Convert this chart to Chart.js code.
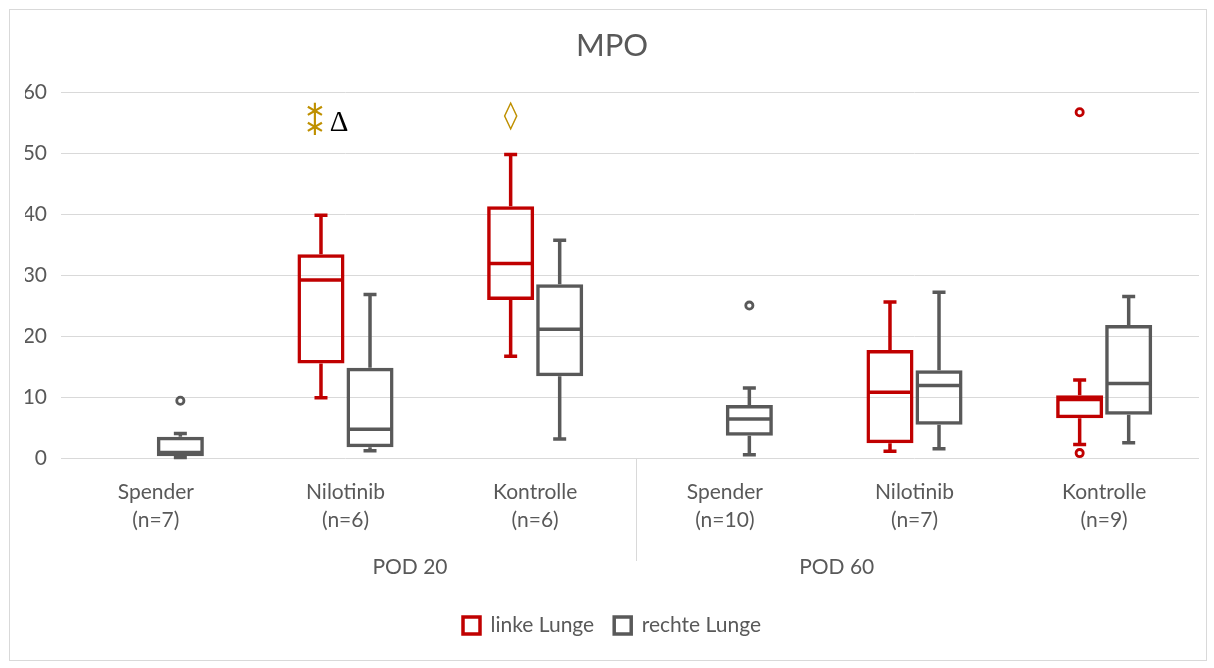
<!DOCTYPE html>
<html>
<head>
<meta charset="utf-8">
<script src="https://cdn.jsdelivr.net/npm/chart.js@4.4.1/dist/chart.umd.min.js"></script>
<style>
  html, body { margin: 0; padding: 0; background: #ffffff; }
  #frame { position: absolute; left: 9px; top: 9px; width: 1196px; height: 650px; border: 1px solid #d9d9d9; }
  #c { position: absolute; left: 0; top: 0; }
</style>
</head>
<body>
<div id="frame"></div>
<canvas id="c" width="1214" height="668"></canvas>
<script>
// ---- data ----
const categories = ['Spender', 'Nilotinib', 'Kontrolle', 'Spender', 'Nilotinib', 'Kontrolle'];
const sampleSizes = ['(n=7)', '(n=6)', '(n=6)', '(n=10)', '(n=7)', '(n=9)'];
const groupLabels = ['POD 20', 'POD 60'];
const seriesNames = ['linke Lunge', 'rechte Lunge'];
const yTicks = [0, 10, 20, 30, 40, 50, 60];

const leftMin    = [null,  9.9, 16.7, null,  1.1,  2.2];
const leftQ1     = [null, 15.5, 25.9, null,  2.4,  6.5];
const leftMedian = [null, 29.2, 31.9, null, 10.8,  9.6];
const leftQ3     = [null, 33.4, 41.3, null, 17.7, 10.3];
const leftMax    = [null, 39.8, 49.8, null, 25.6, 12.8];
const leftOutliers = [[], [], [], [], [], [0.8, 56.7]];

const rightMin    = [0.1,  1.2,  3.1, 0.55,  1.5,  2.5];
const rightQ1     = [0.3,  1.75, 13.4, 3.65, 5.45,  7.1];
const rightMedian = [0.9,  4.7, 21.1, 6.4, 11.9, 12.2];
const rightQ3     = [3.5, 14.8, 28.5, 8.7, 14.4, 21.8];
const rightMax    = [4.0, 26.8, 35.7, 11.5, 27.2, 26.5];
const rightOutliers = [[9.4], [], [], [25.0], [], []];

// significance marks above the boxes
const markText     = ['\u2217', '\u2217', '\u0394', '\u25CA'];
const markCategory = [1, 1, 1, 2];
const markValue    = [56.7, 54.1, 54.9, 55.9];
const markColor    = ['#BF9000', '#BF9000', '#000000', '#BF9000'];

// ---- styling ----
const RED = '#C00000';
const GREY = '#595959';
const TEXT = '#595959';
const GRID = '#d9d9d9';
const FONT = 'Lato';
const FS = 21;

const stats = [
  {min: leftMin, q1: leftQ1, median: leftMedian, q3: leftQ3, max: leftMax, out: leftOutliers, color: RED},
  {min: rightMin, q1: rightQ1, median: rightMedian, q3: rightQ3, max: rightMax, out: rightOutliers, color: GREY}
];

const boxPlugin = {
  id: 'boxWhiskers',
  afterDatasetsDraw(chart) {
    const ctx = chart.ctx;
    const y = chart.scales.y;
    ctx.save();
    stats.forEach((s, d) => {
      const meta = chart.getDatasetMeta(d);
      meta.data.forEach((el, i) => {
        const cx = el.x, w = el.width;
        if (s.min[i] != null) {
          ctx.strokeStyle = s.color;
          ctx.lineWidth = 3.5;
          ctx.lineCap = 'butt';
          const pMin = y.getPixelForValue(s.min[i]);
          const pQ1 = y.getPixelForValue(s.q1[i]);
          const pMed = y.getPixelForValue(s.median[i]);
          const pQ3 = y.getPixelForValue(s.q3[i]);
          const pMax = y.getPixelForValue(s.max[i]);
          ctx.beginPath();
          ctx.moveTo(cx - w / 2 + 1, pMed); ctx.lineTo(cx + w / 2 - 1, pMed);
          ctx.moveTo(cx, pQ3); ctx.lineTo(cx, pMax);
          ctx.moveTo(cx, pQ1); ctx.lineTo(cx, pMin);
          ctx.moveTo(cx - 6.5, pMax); ctx.lineTo(cx + 6.5, pMax);
          ctx.moveTo(cx - 6.5, pMin); ctx.lineTo(cx + 6.5, pMin);
          ctx.stroke();
        }
        // outliers
        s.out[i].forEach(v => {
          ctx.beginPath();
          ctx.arc(cx, y.getPixelForValue(v), 3.6, 0, Math.PI * 2);
          ctx.fillStyle = '#ffffff';
          ctx.fill();
          ctx.lineWidth = 2.8;
          ctx.strokeStyle = s.color;
          ctx.stroke();
        });
      });
    });
    ctx.restore();
  },
  afterDraw(chart) {
    const ctx = chart.ctx;
    const x = chart.scales.x, y = chart.scales.y;
    const area = chart.chartArea;
    ctx.save();
    // group separator
    const sx = Math.round(x.getPixelForValue(2.53)) + 0.5;
    ctx.strokeStyle = GRID;
    ctx.lineWidth = 1;
    ctx.beginPath();
    ctx.moveTo(sx, area.bottom);
    ctx.lineTo(sx, area.bottom + 103);
    ctx.stroke();
    // group labels
    ctx.fillStyle = TEXT;
    ctx.font = FS + 'px ' + FONT;
    ctx.textAlign = 'center';
    ctx.textBaseline = 'middle';
    const groupPos = [1.34, 3.59];
    groupLabels.forEach((g, k) => {
      ctx.fillText(g, x.getPixelForValue(groupPos[k]), area.bottom + 109);
    });
    // significance marks
    const redMeta = chart.getDatasetMeta(0);
    const dx = [-6, -6, 18, 0];
    markText.forEach((t, k) => {
      const el = redMeta.data[markCategory[k]];
      const px = el.x + dx[k];
      const py = y.getPixelForValue(markValue[k]);
      ctx.fillStyle = markColor[k];
      if (t === '\u0394') ctx.font = '29px "Liberation Serif"';
      else if (t === '\u25CA') ctx.font = '28px "DejaVu Sans"';
      else ctx.font = '26px "DejaVu Sans"';
      ctx.fillText(t, px, py);
    });
    ctx.restore();
  }
};

const boxStyle = {
  type: 'bar',
  backgroundColor: 'rgba(255,255,255,0)',
  borderWidth: 3.5,
  borderSkipped: false,
  categoryPercentage: 0.517,
  barPercentage: 0.96
};

const data = {
  labels: categories.map((c, i) => [c, sampleSizes[i]]),
  datasets: [
    Object.assign({}, boxStyle, {
      label: seriesNames[0],
      data: leftQ1.map((q, i) => q == null ? null : [q, leftQ3[i]]),
      borderColor: RED
    }),
    Object.assign({}, boxStyle, {
      label: seriesNames[1],
      data: rightQ1.map((q, i) => q == null ? null : [q, rightQ3[i]]),
      borderColor: GREY
    })
  ]
};

Chart.defaults.font.family = FONT;
Chart.defaults.color = TEXT;

new Chart(document.getElementById('c'), {
  type: 'bar',
  data: data,
  plugins: [boxPlugin],
  options: {
    responsive: false,
    animation: false,
    layout: { padding: { left: 25, right: 15, top: 0, bottom: 22 } },
    plugins: {
      title: {
        display: true,
        text: 'MPO',
        color: TEXT,
        font: { size: 31, weight: 'normal', family: FONT },
        padding: { top: 27, bottom: 28 }
      },
      legend: {
        display: true,
        position: 'bottom',
        labels: {
          color: TEXT,
          font: { size: FS, family: FONT },
          boxWidth: 17,
          boxHeight: 17,
          padding: 20
        }
      },
      tooltip: { enabled: false }
    },
    scales: {
      x: {
        type: 'category',
        offset: true,
        grid: { display: false, drawTicks: false },
        border: { display: false },
        ticks: {
          color: TEXT,
          font: { size: FS, family: FONT, lineHeight: 1.35 },
          padding: 20,
          maxRotation: 0,
          autoSkip: false
        },
        afterFit: (s) => { s.height = 137; }
      },
      y: {
        min: yTicks[0],
        max: yTicks[yTicks.length - 1],
        afterBuildTicks: (s) => { s.ticks = yTicks.map(v => ({value: v})); },
        grid: { color: GRID, lineWidth: 1, drawTicks: false },
        border: { display: false },
        ticks: {
          color: TEXT,
          font: { size: FS, family: FONT },
          padding: 14
        },
        afterFit: (s) => { s.width = 36; }
      }
    }
  }
});
</script>
</body>
</html>
